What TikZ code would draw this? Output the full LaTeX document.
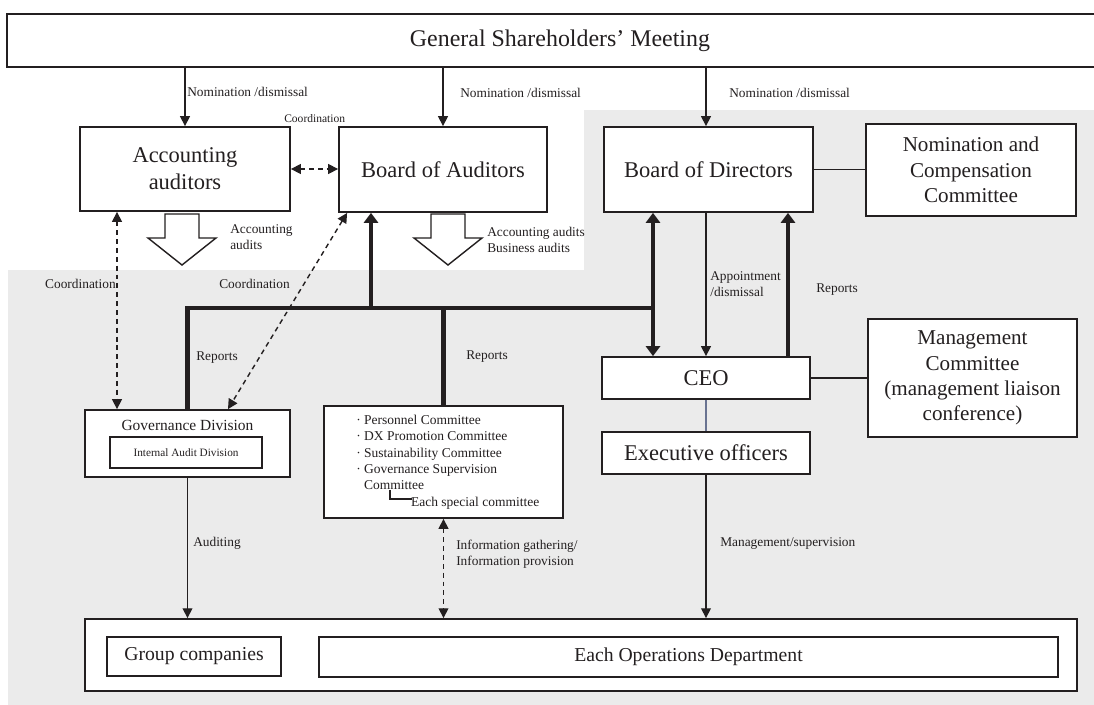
\documentclass[tikz,border=0pt]{standalone}
\usepackage{fontspec}
\setmainfont{Liberation Serif}
\usetikzlibrary{arrows.meta}

\newcommand{\pxl}{0.025cm}
\newcommand{\fsz}[2]{\fontsize{#1}{#2}\selectfont}

\definecolor{bggray}{RGB}{235,235,235}
\definecolor{ink}{RGB}{35,31,32}
\definecolor{linkline}{RGB}{105,115,145}

\begin{document}
\begin{tikzpicture}[x=\pxl, y=-\pxl,
  every node/.style={text=ink},
  box/.style={draw=ink, line width=1.3pt, fill=white, align=center, inner sep=0pt},
  big/.style={font=\fsz{16}{19}},
  mid/.style={font=\fsz{15}{18}},
  tag/.style={font=\fsz{9.5}{11.3}, anchor=west, align=left, inner sep=0pt},
  arr/.style={draw=ink, line width=1pt, -{Triangle[length=7pt,width=7pt]}},
  coord/.style={draw=ink, line width=1pt, dash pattern=on 3.5pt off 2.8pt,
    {Triangle[length=7pt,width=7pt]}-{Triangle[length=7pt,width=7pt]}},
  bus/.style={draw=ink, line width=3pt},
  thickarr/.style={bus, -{Triangle[length=7pt,width=10pt]}},
  hollow/.style={draw=ink, line width=1pt, fill=white, line join=miter}
]
\useasboundingbox (0,0) rectangle (1094,705);

% Background
\fill[white] (0,0) rectangle (1094,705);
\fill[bggray] (8,270) -- (584,270) -- (584,110) -- (1094,110) -- (1094,705) -- (8,705) -- cycle;

% Shareholders' meeting (runs off the right edge)
\node[box, draw=none, fill=none, minimum width=1086*\pxl, minimum height=51*\pxl,
  font=\fsz{17}{20}] (gsm) at (551,40.5) {\hspace*{12.8pt}General Shareholders' Meeting};
\draw[ink, line width=1.3pt] (gsm.north east) -- (gsm.north west) -- (gsm.south west) -- (gsm.south east);

% Auditors and directors
\node[box, big, minimum width=210*\pxl, minimum height=84*\pxl] (acc) at (185,169) {Accounting\\auditors};
\node[box, big, minimum width=208*\pxl, minimum height=85*\pxl] (boa) at (443,169.5) {Board of Auditors};
\node[box, big, minimum width=209*\pxl, minimum height=85*\pxl] (bod) at (708.5,169.5) {Board of Directors};
\node[box, mid, minimum width=210*\pxl, minimum height=92*\pxl] (ncc) at (971,170) {Nomination and\\Compensation\\Committee};

% Executive side
\node[box, big, minimum width=208*\pxl, minimum height=42*\pxl] (ceo) at (706,378) {CEO};
\node[box, big, minimum width=208*\pxl, minimum height=42*\pxl] (exe) at (706,453) {Executive officers};
\node[box, mid, minimum width=209*\pxl, minimum height=118*\pxl] (mc) at (972.5,378)
  {Management\\Committee\\(management liaison\\conference)};

% Governance division
\node[box, minimum width=205*\pxl, minimum height=67*\pxl] (gov) at (187.5,443.5) {};
\node[font=\fsz{11}{13}] (govt) at (187.5,425) {Governance Division};
\node[box, font=\fsz{8}{10}, minimum width=152*\pxl, minimum height=31*\pxl] (iad) at (186,452.5) {Internal Audit Division};

% Committees
\node[box, minimum width=239*\pxl, minimum height=112*\pxl] (com) at (443.5,462) {};
\node[anchor=north west, align=left, inner sep=0pt, font=\fsz{9.6}{11.6}] (comlist) at (356,415)
  {· Personnel Committee\\
   · DX Promotion Committee\\
   · Sustainability Committee\\
   · Governance Supervision\\
   \phantom{· }Committee\\
   \hspace*{39pt}Each special committee};
\draw[ink, line width=0.8pt] (390,490) |- (412,499);

% Group
\node[box, minimum width=992*\pxl, minimum height=72*\pxl] (bot) at (581,655) {};
\node[box, font=\fsz{14}{16}, minimum width=174*\pxl, minimum height=39*\pxl] (grp) at (194,656.5) {Group companies};
\node[box, font=\fsz{14}{16}, minimum width=739*\pxl, minimum height=40*\pxl] (ops) at (688.5,657) {Each Operations Department};

% Nomination arrows
\draw[arr] (acc.north |- gsm.south) -- (acc.north);
\draw[arr] (boa.north |- gsm.south) -- (boa.north);
\draw[arr] (ceo.north |- gsm.south) -- (ceo.north |- bod.north);
\node[tag] (nom1) at (187,92) {Nomination /dismissal};
\node[tag] (nom2) at (460,93) {Nomination /dismissal};
\node[tag] (nom3) at (729,93) {Nomination /dismissal};

% Coordination between auditors
\draw[coord] (acc.east) -- (acc.east -| boa.west);
\node[tag, font=\fsz{8.2}{10}] (crd0) at (284,119) {Coordination};

% Audit block arrows
\filldraw[hollow] (165,214) -- (199,214) -- (199,238) -- (216,238) -- (182,265) -- (148,238) -- (165,238) -- cycle;
\filldraw[hollow] (431,214) -- (465,214) -- (465,238) -- (482,238) -- (448,265) -- (414,238) -- (431,238) -- cycle;
\node[tag] (aud1) at (230,237) {Accounting\\audits};
\node[tag] (aud2) at (487,240) {Accounting audits\\Business audits};

% Side lines
\draw[ink, line width=1.3pt] (bod.east) -- (bod.east -| ncc.west);
\draw[ink, line width=1.3pt] (ceo.east) -- (ceo.east -| mc.west);
\draw[linkline, line width=1pt] (ceo.south) -- (exe.north);

% Reporting bus
\coordinate (jn) at (653,308);
\coordinate (up) at (371,308);
\coordinate (rp) at (788,308);
\draw[bus, line join=miter] (gov.north) |- (jn);
\draw[bus] (com.north) -- (com.north |- jn);
\draw[thickarr] (up) -- (up |- boa.south);
\draw[bus, {Triangle[length=7pt,width=10pt]}-{Triangle[length=7pt,width=10pt]}] (jn |- bod.south) -- (jn |- ceo.north);
\draw[thickarr] (rp |- ceo.north) -- (rp |- bod.south);
\draw[arr] (ceo.north |- bod.south) -- (ceo.north);
\node[tag] (rep1) at (196,358) {Reports};
\node[tag] (rep2) at (466,357) {Reports};
\node[tag] (rep3) at (816,290) {Reports};
\node[tag] (apt) at (710,284.5) {Appointment\\/dismissal};

% Coordination with governance division
\coordinate (cv) at (117,308);
\draw[coord] (cv |- acc.south) -- (cv |- gov.north);
\draw[coord] ([xshift=9*\pxl]boa.south west) -- ([xshift=40.5*\pxl]gov.north);
\node[tag, anchor=east] (crd1) at (116,284) {Coordination};
\node[tag] (crd2) at (219,284) {Coordination};

% Down to operations
\draw[arr] (gov.south) -- (gov.south |- bot.north);
\draw[coord] (com.south) -- (com.south |- bot.north);
\draw[arr] (exe.south) -- (exe.south |- bot.north);
\node[tag] (adt) at (193,543) {Auditing};
\node[tag] (inf) at (456,554) {Information gathering/\\Information provision};
\node[tag] (mgt) at (720,544) {Management/supervision};

\end{tikzpicture}
\end{document}
